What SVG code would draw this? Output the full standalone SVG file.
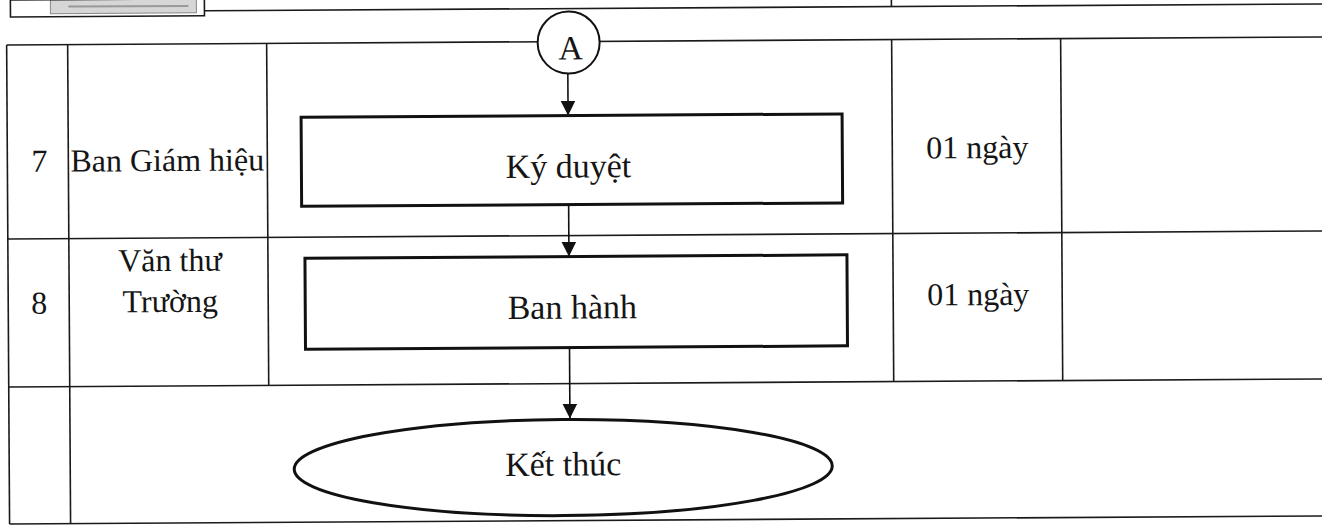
<svg xmlns="http://www.w3.org/2000/svg" width="1322" height="531" viewBox="0 0 1322 531">
<style>
.grid{stroke:#1a1a1a;stroke-width:1.6;fill:none}
.box{stroke:#111;stroke-width:3;fill:#fff}
.conn{stroke:#111;stroke-width:1.6;fill:none}
text{font-family:"Liberation Serif","Times New Roman",serif;font-size:32px;fill:#151515}
.c{text-anchor:middle}
.big{font-size:34px}
</style>
<defs>
<marker id="arrow" markerWidth="16" markerHeight="16" refX="15" refY="8" orient="auto" markerUnits="userSpaceOnUse" viewBox="0 0 16 16">
<path d="M0,0.5 L15,8 L0,15.5 Z" fill="#111"/>
</marker>
</defs>
<rect width="1322" height="531" fill="#fff"/>
<g transform="rotate(-0.35 661 265)">
<g id="prev-page">
<rect x="52" y="-4" width="146" height="14" fill="#d6d6d6" stroke="#888" stroke-width="1"/>
<line x1="70" y1="3" x2="190" y2="3" stroke="#999" stroke-width="2"/>
<rect x="12" y="-4" width="194" height="17" class="grid"/>
<line x1="206" y1="8" x2="1330" y2="8" class="grid"/>
<line x1="893" y1="-4" x2="893" y2="8" class="grid"/>
</g>
<g id="table">
<line x1="8" y1="41" x2="1330" y2="41" class="grid"/>
<line x1="8" y1="235" x2="1330" y2="235" class="grid"/>
<line x1="8" y1="383" x2="1330" y2="383" class="grid"/>
<line x1="8" y1="520" x2="1330" y2="520" class="grid"/>
<line x1="8" y1="41" x2="8" y2="520" class="grid"/>
<line x1="69" y1="41" x2="69" y2="520" class="grid"/>
<line x1="268" y1="41" x2="268" y2="383" class="grid"/>
<line x1="893" y1="41" x2="893" y2="383" class="grid"/>
<line x1="1062" y1="41" x2="1062" y2="383" class="grid"/>
</g>
<g id="row7-labels">
<text x="40" y="168" class="c">7</text>
<text x="71" y="168">Ban Giám hiệu</text>
<text x="978" y="160" class="c">01 ngày</text>
</g>
<g id="row8-labels">
<text x="39" y="310" class="c">8</text>
<text x="170" y="268" class="c">Văn thư</text>
<text x="170" y="309" class="c">Trường</text>
<text x="978" y="307" class="c">01 ngày</text>
</g>
<g id="connectors">
<line x1="569" y1="73" x2="569" y2="115" class="conn" marker-end="url(#arrow)"/>
<line x1="569" y1="204" x2="569" y2="256" class="conn" marker-end="url(#arrow)"/>
<line x1="569" y1="347" x2="569" y2="418" class="conn" marker-end="url(#arrow)"/>
</g>
<g id="node-A">
<circle cx="570" cy="42" r="31" fill="#fff" stroke="#111" stroke-width="2"/>
<text x="572" y="59" class="c big">A</text>
</g>
<g id="node-ky-duyet">
<rect x="302" y="115" width="541" height="89" class="box"/>
<text x="569" y="177" class="c big">Ký duyệt</text>
</g>
<g id="node-ban-hanh">
<rect x="305" y="256" width="542" height="91" class="box"/>
<text x="572" y="318" class="c big">Ban hành</text>
</g>
<g id="node-ket-thuc">
<ellipse cx="562" cy="467" rx="269" ry="48" class="box"/>
<text x="562" y="475" class="c big">Kết thúc</text>
</g>
</g>
</svg>
